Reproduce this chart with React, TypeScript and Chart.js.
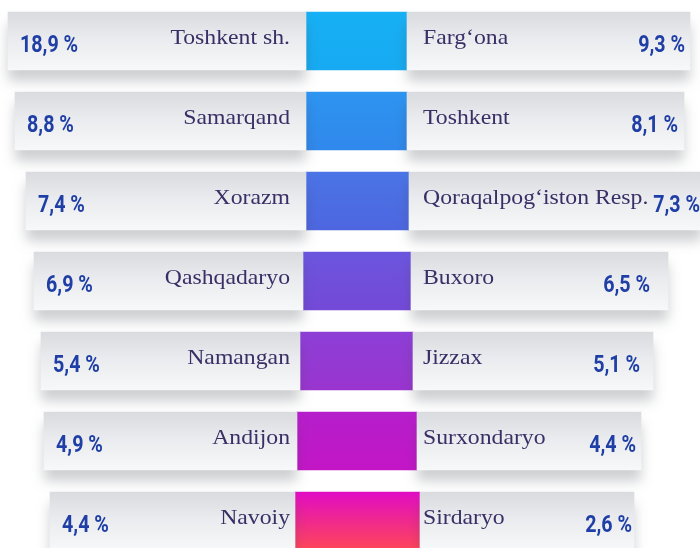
import React, { useEffect, useRef } from "react";
import { Chart, registerables } from "chart.js";

Chart.register(...registerables);

// ---- data ----
const leftRegions = ["Toshkent sh.", "Samarqand", "Xorazm", "Qashqadaryo", "Namangan", "Andijon", "Navoiy"];
const leftShares = [18.9, 8.8, 7.4, 6.9, 5.4, 4.9, 4.4];
const rightRegions = ["Farg\u2018ona", "Toshkent", "Qoraqalpog\u2018iston Resp.", "Buxoro", "Jizzax", "Surxondaryo", "Sirdaryo"];
const rightShares = [9.3, 8.1, 7.3, 6.5, 5.1, 4.4, 2.6];

// ---- layout (decorative funnel geometry, in x-scale units) ----
const panelLeftStart = [8, 15, 26, 34, 41, 44, 50];
const squareLeft = [306, 306, 306, 303, 300, 297, 295];
const squareRight = [407, 407, 409, 411, 413, 417, 420];
const panelRightEnd = [690, 684, 702, 668, 653, 641, 634];
const rightPctEnd = [685, 678, 700, 650, 640, 636, 632];
const leftNameEnd = 290;
const rightNameStart = 423;
const squareColors = [
  ["#17b0f4", "#17aaf2"],
  ["#2d94f0", "#3088ec"],
  ["#4a74e6", "#4d66e0"],
  ["#6b55de", "#7449d8"],
  ["#8c3fd6", "#9a34cf"],
  ["#b51ecb", "#c316c6"],
  ["#e00cc4", "#ff4658"],
];

const rows = leftRegions.map((_, i) => i);
const fmt = (v: number) => v.toFixed(1).replace(".", ",") + " %";

function drawStretched(c: CanvasRenderingContext2D, text: string, x: number, y: number, align: CanvasTextAlign, sx: number) {
  c.save();
  c.translate(x, y);
  c.scale(sx, 1);
  c.textAlign = align;
  c.fillText(text, 0, 0);
  c.restore();
}

export default function App() {
  const ref = useRef<HTMLCanvasElement | null>(null);

  useEffect(() => {
    document.body.style.margin = "0";
    const canvas = ref.current;
    if (!canvas) return;

    const rowBounds = (chart: any, i: number) => {
      const y = chart.scales && chart.scales.y ? chart.scales.y.getPixelForValue(i) : NaN;
      return { top: y - 29, bottom: y + 29, y };
    };

    const panelFill = (ctx: any) => {
      const chart = ctx.chart;
      const i = ctx.raw ? ctx.raw.y : ctx.dataIndex;
      const { top, bottom } = rowBounds(chart, i);
      if (!isFinite(top) || !isFinite(bottom)) return "#e6e8eb";
      const g = chart.ctx.createLinearGradient(0, top, 0, bottom);
      g.addColorStop(0, "#d9dbdf");
      g.addColorStop(0.45, "#eaebee");
      g.addColorStop(1, "#f7f8f9");
      return g;
    };

    const squareFill = (ctx: any) => {
      const chart = ctx.chart;
      const i = ctx.raw ? ctx.raw.y : ctx.dataIndex;
      const c = squareColors[i] || squareColors[0];
      const { top, bottom } = rowBounds(chart, i);
      if (!isFinite(top) || !isFinite(bottom)) return c[0];
      const g = chart.ctx.createLinearGradient(0, top, 0, bottom);
      g.addColorStop(0, c[0]);
      g.addColorStop(1, c[1]);
      return g;
    };

    const shadowPlugin = {
      id: "panelShadow",
      beforeDatasetDraw(chart: any, args: any) {
        if (args.index === 0 || args.index === 1) {
          const c = chart.ctx;
          c.save();
          c.shadowColor = "rgba(60,65,75,0.26)";
          c.shadowBlur = 12;
          c.shadowOffsetY = 11;
        }
      },
      afterDatasetDraw(chart: any, args: any) {
        if (args.index === 0 || args.index === 1) chart.ctx.restore();
      },
    };

    const labelPlugin = {
      id: "rowLabels",
      afterDatasetsDraw(chart: any) {
        const c = chart.ctx;
        const xs = chart.scales.x;
        c.save();
        c.textBaseline = "middle";
        rows.forEach((i) => {
          const { y } = rowBounds(chart, i);
          c.font = '21px "Liberation Serif", "Times New Roman", serif';
          c.fillStyle = "#3a2e66";
          drawStretched(c, leftRegions[i], xs.getPixelForValue(leftNameEnd), y - 3, "right", 1.13);
          drawStretched(c, rightRegions[i], xs.getPixelForValue(rightNameStart), y - 3, "left", 1.13);
          c.font = 'bold 24px Roboto, "DejaVu Sans", sans-serif';
          c.fillStyle = "#1f3fa6";
          drawStretched(c, fmt(leftShares[i]), xs.getPixelForValue(panelLeftStart[i] + 12), y + 5, "left", 0.82);
          drawStretched(c, fmt(rightShares[i]), xs.getPixelForValue(rightPctEnd[i]), y + 5, "right", 0.82);
        });
        c.restore();
      },
    };

    const chart = new Chart(canvas, {
      type: "bar",
      data: {
        datasets: [
          {
            label: "left",
            data: rows.map((i) => ({ y: i, x: [panelLeftStart[i], squareLeft[i]] })) as any,
            backgroundColor: panelFill as any,
            grouped: false,
            barThickness: 58,
            borderWidth: 0,
          },
          {
            label: "right",
            data: rows.map((i) => ({ y: i, x: [squareRight[i], panelRightEnd[i]] })) as any,
            backgroundColor: panelFill as any,
            grouped: false,
            barThickness: 58,
            borderWidth: 0,
          },
          {
            label: "squares",
            data: rows.map((i) => ({ y: i, x: [squareLeft[i], squareRight[i]] })) as any,
            backgroundColor: squareFill as any,
            grouped: false,
            barThickness: 58,
            borderWidth: 0,
          },
        ],
      },
      options: {
        indexAxis: "y",
        animation: false,
        responsive: false,
        maintainAspectRatio: false,
        layout: { padding: 0 },
        plugins: { legend: { display: false }, tooltip: { enabled: false } },
        scales: {
          x: { type: "linear", min: 0, max: 700, display: false, offset: false },
          y: { type: "linear", min: -0.5125, max: 6.3375, reverse: true, display: false, offset: false, grace: 0 },
        },
      },
      plugins: [shadowPlugin, labelPlugin],
    });

    return () => chart.destroy();
  }, []);

  return (
    <div style={{ position: "fixed", left: 0, top: 0, width: 700, height: 548, background: "#ffffff" }}>
      <canvas ref={ref} width={700} height={548} style={{ width: 700, height: 548, display: "block" }} />
    </div>
  );
}
